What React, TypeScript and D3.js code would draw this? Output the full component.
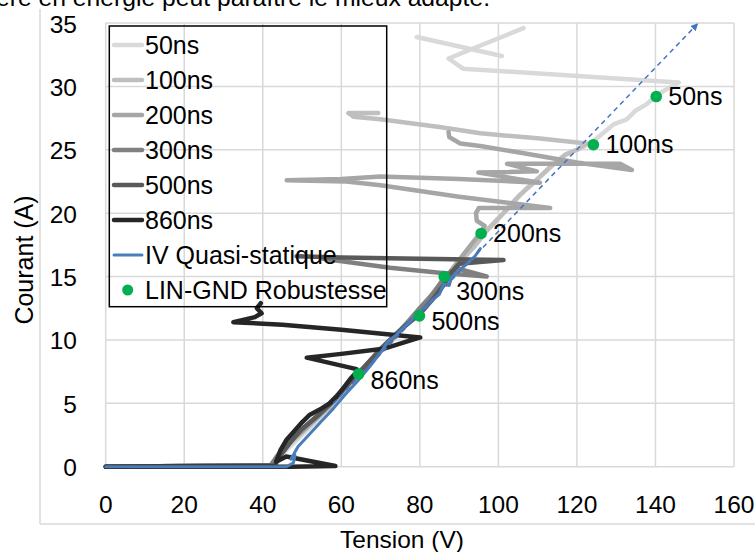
import React from "react";
import * as d3 from "d3";

type P = [number, number] | null;

const xTicks = [0, 20, 40, 60, 80, 100, 120, 140, 160];
const yTicks = [0, 5, 10, 15, 20, 25, 30, 35];

const seriesNames = ["50ns", "100ns", "200ns", "300ns", "500ns", "860ns"];
const seriesColors = ["#D9D9D9", "#BFBFBF", "#A6A6A6", "#808080", "#595959", "#262626"];

const s50: P[] = [
  [0, 0], [20, 0.05], [42, 0.1], [44, 0.6], [46, 1.3], [50, 2.5], [54, 3.7], [58, 5.1], [62, 6.3], [66, 7.7],
  [70, 9.1], [74, 10.3], [78, 11.7], [82, 13.0], [86, 14.5], [89.4, 15.9], [92, 16.9], [95.4, 18.1], [99, 19.3],
  [103.8, 20.8], [107, 21.9], [111.5, 23.1], [115, 24.1], [117.5, 24.7], [121, 25.1], [124.2, 25.7], [127, 26.4],
  [129.3, 27.0], [132.7, 27.4], [135, 28.1], [137.8, 28.6], [140.2, 29.3], [143, 29.8], [145.9, 30.3],
  [91, 31.4], [87.3, 32.2], [106.4, 34.6], null, [79.2, 33.9], [100.9, 32.4],
];
const s100: P[] = [
  [0, 0], [20, 0.05], [42, 0.1], [43.5, 0.7], [45.5, 1.5], [49, 2.4], [53, 3.6], [57, 4.7], [61, 6.2], [65, 7.3],
  [69, 8.8], [73, 10.0], [77, 11.4], [81, 12.6], [85, 14.0], [88, 15.1], [91, 16.4], [94, 17.4], [97, 18.6],
  [101, 19.9], [105, 21.3], [109, 22.4], [113, 23.6], [117, 24.6], [120, 25.0], [122.5, 25.5],
  [110, 25.9], [95.4, 26.3], [85, 26.8], [69.9, 27.4], [63.1, 27.6], [61.8, 27.9], [69.4, 27.9],
];
const s200: P[] = [
  [0, 0], [20, 0.05], [42, 0.1], [43.5, 0.8], [46, 1.7], [50, 2.8], [54, 3.9], [58, 5.1], [62, 6.5], [66, 7.8],
  [70, 9.2], [74, 10.4], [78, 11.8], [82, 13.2], [86, 14.7], [90, 16.3], [93, 17.5], [95.6, 18.5], [96.5, 19.0],
  [94.5, 19.4], [94.3, 20.0], [95, 20.4], [113.2, 20.4], [90, 21.3], [70, 22.2], [61.3, 22.5], [46.1, 22.6],
  [60, 22.7], [70, 22.9], [90, 22.7], [110.6, 22.4], [94.9, 23.2], [109.8, 23.3], [102.2, 23.9], [131, 23.9],
  [134, 23.4], [120, 24.0], [105, 24.8], [95.4, 25.3], [90.3, 25.5], [87.5, 26.0], [87.3, 26.4],
];
const s300: P[] = [
  [0, 0], [20, 0.05], [42, 0.1], [44, 0.9], [46, 1.8], [49, 2.6], [53, 3.8], [57, 5.0], [61, 6.3], [65, 7.6],
  [69, 8.9], [73, 10.1], [77, 11.4], [80, 12.5], [83, 13.5], [86.2, 14.9], [88, 15.4], [90, 15.6], [97, 15.0],
  [85, 15.3], [72.4, 15.7], [55.4, 16.4],
];
const s500: P[] = [
  [0, 0], [20, 0.05], [43, 0.1], [44.5, 0.9], [47, 1.9], [50, 3.0], [54, 4.0], [58, 5.2], [62, 6.6], [66, 7.9],
  [70, 9.3], [74, 10.5], [77, 11.3], [79.9, 12.0], [83, 13.1], [86, 14.3], [88, 15.3], [90, 16.0], [101.3, 16.3],
  [80, 16.4], [60, 16.5], [48.6, 16.6],
];
const s860: P[] = [
  [0, 0], [20, 0], [47, 0], [58.5, 0.05], [46, 0.8], [43.4, 0.4], [44.5, 1.3], [46, 2.1], [48, 2.8], [50, 3.5],
  [52, 4.1], [55, 4.6], [57, 5.0], [59, 5.6], [61, 6.4], [62.5, 7.0], [64, 7.5], [63.9, 7.7], [51.2, 8.6],
  [60, 8.9], [70.7, 9.3], [76, 9.8], [80.1, 10.2], [60, 10.8], [45, 11.2], [32.5, 11.4], [38, 11.8],
  [39.7, 12.1], [38.5, 12.5], [39.5, 12.9],
];
const ivQuasi: P[] = [
  [0, 0], [46, 0], [47.8, 0.3], [48.2, 0.9], [47.2, 0.6], [49, 1.6], [52, 2.6], [55, 3.6], [58, 4.6], [61, 5.7],
  [64, 6.7], [67, 7.8], [70, 9.0], [72, 9.9], [74, 10.4], [77, 11.3], [80, 12.2], [81.5, 12.6], [83, 13.1],
  [85, 13.6], [86, 14.4], [87.5, 14.3], [88, 14.9], [90, 15.5], [92, 16.0], [94, 16.6], [95.4, 17.2],
];
const trendLine: [number, number][] = [[58, 5.0], [150.6, 34.9]];

const robustV = [140.2, 124.2, 95.6, 86.2, 79.9, 64.4];
const robustA = [29.2, 25.4, 18.4, 15.0, 11.9, 7.3];
const robustLabels = ["50ns", "100ns", "200ns", "300ns", "500ns", "860ns"];
const labelDy = [0, 0, 0, 15, 6, 6];

const allSeries = [s50, s100, s200, s300, s500, s860];

export default function App() {
  const W = 755, H = 552;
  const x = d3.scaleLinear().domain([0, 160]).range([105.7, 734]);
  const y = d3.scaleLinear().domain([0, 35]).range([466.7, 23]);
  const line = d3
    .line<P>()
    .defined((d) => d !== null)
    .x((d) => x((d as [number, number])[0]))
    .y((d) => y((d as [number, number])[1]));
  const font = "'Liberation Sans', Arial, sans-serif";
  const legendItems = [...seriesNames, "IV Quasi-statique", "LIN-GND Robustesse"];

  return (
    <svg width={W} height={H} style={{ position: "absolute", left: 0, top: 0, background: "#fff" }} fontFamily={font}>
      <rect x={0} y={0} width={W} height={H} fill="#fff" />
      <text x={-4} y={6} fontSize={24} fill="#000" textLength={494} lengthAdjust="spacingAndGlyphs">
        ère en énergie peut paraître le mieux adapté.
      </text>
      {/* chart border */}
      <line x1={40} x2={40} y1={9} y2={524} stroke="#D9D9D9" strokeWidth={1.5} />
      <line x1={40} x2={W} y1={524} y2={524} stroke="#D9D9D9" strokeWidth={1.5} />
      {/* grid */}
      {xTicks.map((t) => (
        <line key={"gx" + t} x1={x(t)} x2={x(t)} y1={y(35)} y2={y(0)} stroke="#D9D9D9" strokeWidth={1.5} />
      ))}
      {yTicks.map((t) => (
        <line key={"gy" + t} x1={x(0)} x2={x(160)} y1={y(t)} y2={y(t)} stroke="#D9D9D9" strokeWidth={1.5} />
      ))}
      {/* tick labels */}
      {xTicks.map((t) => (
        <text key={"tx" + t} x={x(t)} y={513} fontSize={24.5} textAnchor="middle" fill="#000">
          {t}
        </text>
      ))}
      {yTicks.map((t) => (
        <text key={"ty" + t} x={77} y={y(t) + 9.5} fontSize={24.5} textAnchor="end" fill="#000">
          {t}
        </text>
      ))}
      <text x={402} y={548} fontSize={24.5} textAnchor="middle" fill="#000">
        Tension (V)
      </text>
      <text transform="translate(33,260) rotate(-90)" fontSize={25} textAnchor="middle" fill="#000">
        Courant (A)
      </text>
      {/* series */}
      {allSeries.map((s, i) => (
        <path key={"s" + i} d={line(s) || ""} fill="none" stroke={seriesColors[i]} strokeWidth={4.5}
          strokeLinejoin="round" strokeLinecap="round" />
      ))}
      <path d={line(ivQuasi) || ""} fill="none" stroke="#4A7EBB" strokeWidth={3} strokeLinejoin="round" strokeLinecap="round" />
      <defs>
        <marker id="arr" viewBox="0 0 10 10" refX={8} refY={5} markerWidth={5} markerHeight={5} orient="auto">
          <path d="M0,0 L10,5 L0,10 z" fill="#4472C4" />
        </marker>
      </defs>
      <path d={line(trendLine as P[]) || ""} fill="none" stroke="#4472C4" strokeWidth={1.5} strokeDasharray="5,4"
        markerEnd="url(#arr)" />
      {/* robustness points */}
      {robustV.map((v, i) => (
        <g key={"r" + i}>
          <circle cx={x(v)} cy={y(robustA[i])} r={5.8} fill="#00B050" />
          <text x={x(v) + 12} y={y(robustA[i]) + labelDy[i] + 8.5} fontSize={25} fill="#000">
            {robustLabels[i]}
          </text>
        </g>
      ))}
      {/* legend */}
      <rect x={109.3} y={26} width={277.4} height={280.7} fill="none" stroke="#000" strokeWidth={1.5} />
      {legendItems.map((name, i) => {
        const cy = 45 + i * 35;
        return (
          <g key={"l" + i}>
            {i < 6 && <line x1={114} x2={142} y1={cy} y2={cy} stroke={seriesColors[i]} strokeWidth={4.5} strokeLinecap="round" />}
            {i === 6 && <line x1={114} x2={142} y1={cy} y2={cy} stroke="#4A7EBB" strokeWidth={3} strokeLinecap="round" />}
            {i === 7 && <circle cx={127.7} cy={cy} r={5.5} fill="#00B050" />}
            <text x={145} y={cy + 8.5} fontSize={25} fill="#000">
              {name}
            </text>
          </g>
        );
      })}
    </svg>
  );
}
